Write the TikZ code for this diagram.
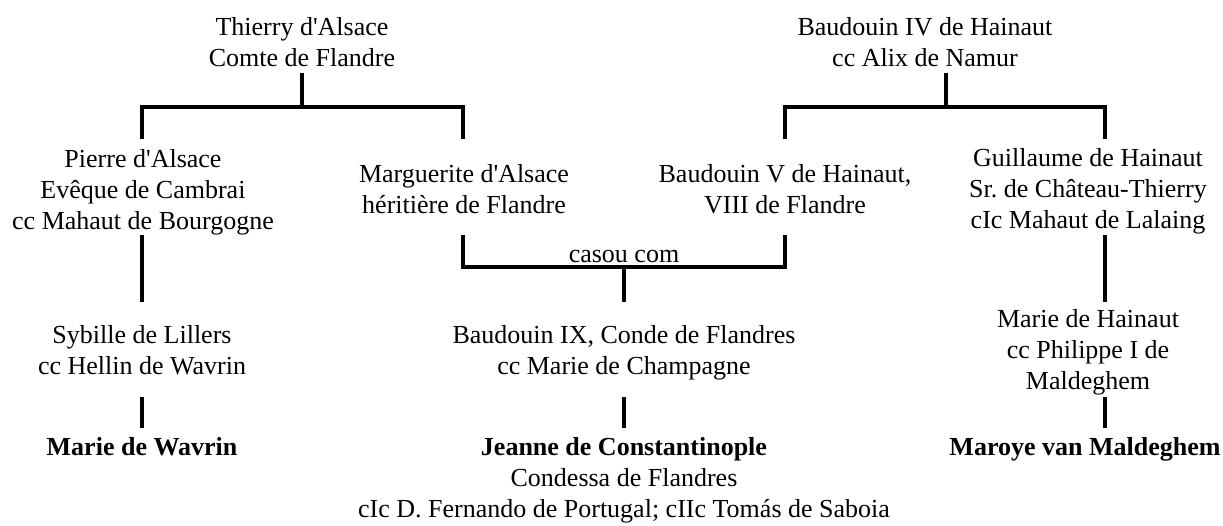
\documentclass[tikz,border=0pt]{standalone}
\usepackage{fontspec}
\setmainfont{Liberation Serif}
\frenchspacing
\newcommand\aq{\textquotesingle}
\newcommand\stk[1]{\begin{tabular}[t]{@{}c@{}}#1\end{tabular}}
\begin{document}
\begin{tikzpicture}[x=1pt,y=-1pt,
  person/.style={anchor=base,inner sep=0pt,outer sep=0pt,font=\fontsize{26}{31}\selectfont},
  heir/.style={person,font=\fontsize{26}{31}\selectfont\bfseries},
  link/.style={line width=3.2pt,line join=miter,line cap=butt}]
\useasboundingbox (0,0) rectangle (1223,525);
% people
\node[person] (thierry) at (302,35) {\stk{Thierry d\aq Alsace\\Comte de Flandre}};
\node[person] (baud4) at (925,35) {\stk{Baudouin IV de Hainaut\\cc Alix de Namur}};
\node[person] (pierre) at (143,167) {\stk{Pierre d\aq Alsace\\Evêque de Cambrai\\cc Mahaut de Bourgogne}};
\node[person] (marg) at (464,182) {\stk{Marguerite d\aq Alsace\\héritière de Flandre}};
\node[person] (baud5) at (785,182) {\stk{Baudouin V de Hainaut,\\VIII de Flandre}};
\node[person] (guil) at (1088,166) {\stk{Guillaume de Hainaut\\Sr.\ de Château-Thierry\\cIc Mahaut de Lalaing}};
\node[person] (casou) at (624,262) {casou com};
\node[person] (sybille) at (142,343) {\stk{Sybille de Lillers\\cc Hellin de Wavrin}};
\node[person] (baud9) at (624,343) {\stk{Baudouin IX, Conde de Flandres\\cc Marie de Champagne}};
\node[person] (marieh) at (1088,327) {\stk{Marie de Hainaut\\cc Philippe I de\\Maldeghem}};
\node[heir] (mwavrin) at (142,455) {Marie de Wavrin};
\node[person] (jeanne) at (624,455) {\stk{\textbf{Jeanne de Constantinople}\\Condessa de Flandres\\cIc D.\ Fernando de Portugal; cIIc Tomás de Saboia}};
\node[heir] (maroye) at (1085,455) {Maroye van Maldeghem};
% connector points
\coordinate (thierry-out) at (302,73);
\coordinate (thierry-bar) at (302,107);
\coordinate (pierre-in) at (142,139);
\coordinate (marg-in) at (463,139);
\coordinate (baud4-out) at (946,73);
\coordinate (baud4-bar) at (946,107);
\coordinate (baud5-in) at (785,139);
\coordinate (guil-in) at (1105,139);
\coordinate (pierre-out) at (142,235);
\coordinate (sybille-in) at (142,302);
\coordinate (marg-out) at (463,235);
\coordinate (baud5-out) at (785,235);
\coordinate (couple-bar) at (624,267);
\coordinate (baud9-in) at (624,302);
\coordinate (sybille-out) at (142,397);
\coordinate (mwavrin-in) at (142,428);
\coordinate (baud9-out) at (624,397);
\coordinate (jeanne-in) at (624,428);
\coordinate (guil-out) at (1105,235);
\coordinate (marieh-in) at (1105,302);
\coordinate (marieh-out) at (1105,397);
\coordinate (maroye-in) at (1105,428);
% connectors
\draw[link] (thierry-out) -- (thierry-bar);
\draw[link] (pierre-in) -- (pierre-in |- thierry-bar) -- (marg-in |- thierry-bar) -- (marg-in);
\draw[link] (baud4-out) -- (baud4-bar);
\draw[link] (baud5-in) -- (baud5-in |- baud4-bar) -- (guil-in |- baud4-bar) -- (guil-in);
\draw[link] (pierre-out) -- (sybille-in);
\draw[link] (marg-out) -- (marg-out |- couple-bar) -- (baud5-out |- couple-bar) -- (baud5-out);
\draw[link] (couple-bar) -- (baud9-in);
\draw[link] (sybille-out) -- (mwavrin-in);
\draw[link] (baud9-out) -- (jeanne-in);
\draw[link] (guil-out) -- (marieh-in);
\draw[link] (marieh-out) -- (maroye-in);
\end{tikzpicture}
\end{document}
